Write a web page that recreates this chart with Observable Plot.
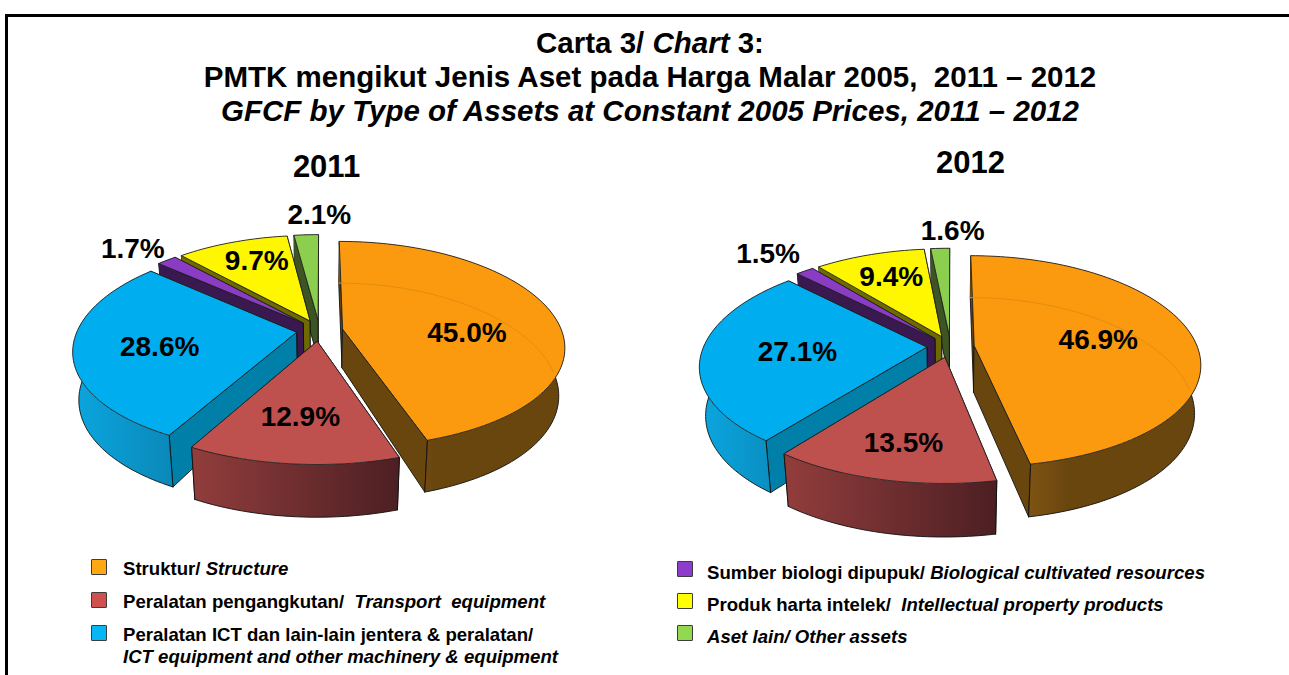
<!DOCTYPE html>
<html>
<head>
<meta charset="utf-8">
<script src="https://cdn.jsdelivr.net/npm/d3@7"></script>
<script src="https://cdn.jsdelivr.net/npm/@observablehq/plot@0.6"></script>
<style>
html,body{margin:0;padding:0;background:#fff;overflow:hidden;width:1289px;height:675px;font-family:"Liberation Sans",Arial,sans-serif;color:#000}
#page{position:relative;width:1289px;height:675px;overflow:hidden}
#frame{position:absolute;left:5px;top:14px;width:1290px;height:670px;border-left:3px solid #000;border-top:3px solid #000;box-sizing:border-box}
#head{position:absolute;left:0;top:0;width:1300px;height:135px;text-align:center;font-weight:bold;font-size:29.5px;line-height:34px}
#head div{position:absolute;width:100%;left:0;white-space:pre}
#chart{position:absolute;left:0;top:135px}
#chart svg{display:block}
#legend{position:absolute;left:0;top:545px;width:1289px;height:130px;font-weight:bold;font-size:18.6px;line-height:22px}
.sw{position:absolute;width:14px;height:14px;border:1.5px solid #3c3c3c;border-radius:1px}
.lt{position:absolute;white-space:pre}
</style>
</head>
<body>
<div id="page">
<div id="frame"></div>
<div id="head"></div>
<div id="chart"></div>
<div id="legend"></div>
</div>
<script>
// ---------- data ----------
const categories = ["Struktur","Peralatan pengangkutan","Peralatan ICT","Sumber biologi dipupuk","Produk harta intelek","Aset lain"];
const values2011 = [45.0,12.9,28.6,1.7,9.7,2.1];
const values2012 = [46.9,13.5,27.1,1.5,9.4,1.6];
const years = ["2011","2012"];
const titleLines = ["Carta 3/ <i>Chart</i> 3:","PMTK mengikut Jenis Aset pada Harga Malar 2005,  2011 – 2012","<i>GFCF by Type of Assets at Constant 2005 Prices, 2011 – 2012</i>"];
const legendMalay = ["Struktur/ ","Peralatan pengangkutan/  ","Peralatan ICT dan lain-lain jentera &amp; peralatan/<br>","Sumber biologi dipupuk/ ","Produk harta intelek/  ",""];
const legendEnglish = ["Structure","Transport  equipment","ICT equipment and other machinery &amp; equipment","Biological cultivated resources","Intellectual property products","Aset lain/ Other assets"];

// ---------- style ----------
const topColors  = ["#FB9A0E","#BE504E","#00AEEF","#8A3CC4","#FFF700","#8CCE4E"];
const swatchColors = ["#FFA812","#D0504E","#08B6F6","#8E3CCC","#FFFF00","#92D850"];
const wallStops = [
  [[.25,"#7E5412"],[.42,"#6A460F"]],
  [[0,"#923D3C"],[1,"#4C1F23"]],
  [[0,"#0BA6E0"],[1,"#0A88B8"]],
  [[0,"#3A1850"],[1,"#3A1850"]],
  [[0,"#6E6A00"],[1,"#6E6A00"]],
  [[0,"#3D5423"],[1,"#3D5423"]]
];
const wallInner  = ["#6A460F","#5A2526","#0080A8","#3A1850","#6E6A00","#3D5423"];
const paintOrder = [5,4,3,2,0,1];

// ---------- pie geometry ----------
const W = 1289, H = 410, Y0 = 135;
const pies = [
  {values:values2011, cx:319, cy:330, R:219, Ry:101, e:.107, persp:.15, perspX:.17, shrink:.975, apexDepth:39, rimDepth:47, grow:.11, labelDx:-1,
   labelAngle:[92.5,185.4,257.6,313.2,337.3,0.2], labelR:[.675,.766,.723,1.345,.825,1.373], year:[326,167]},
  {values:values2012, cx:950, cy:346, R:223, Ry:103.5, e:.107, persp:.15, perspX:.17, shrink:.975, apexDepth:47, rimDepth:47.5, grow:.115, labelDx:0,
   labelAngle:[85,192.5,265.2,317,338,0.5], labelR:[.672,.839,.682,1.41,.799,1.337], year:[970,163]}
];
const rad = d => d*Math.PI/180;

function project(p,U,V,depth){
  let x = p.R*U/(1-p.perspX*V), y = p.Ry*V/(1-p.persp*V);
  if(depth){ x *= p.shrink; y += depth*(1+p.grow*V); }
  return {x:p.cx+x, y:p.cy+y};
}
function pointOn(p,sl,r,th,bottom){
  const m = (sl.startAngle+sl.endAngle)/2;
  const depth = bottom ? p.apexDepth+(p.rimDepth-p.apexDepth)*r : 0;
  return project(p, p.e*Math.sin(m)+r*Math.sin(th), -p.e*Math.cos(m)-r*Math.cos(th), depth);
}
function arcAngles(a0,a1){
  const n = Math.max(2,Math.ceil((a1-a0)/rad(1.5)));
  return d3.range(n+1).map(i=>a0+(a1-a0)*i/n);
}
const tag = (pts,id)=>pts.map(q=>({...q,id}));
const faces = th => Math.cos(th) < 0.05;   // rim and corner edges on the viewer's side

const gradientDefs = () => {
  const defs = d3.create("svg:defs");
  wallStops.forEach((stops,i)=>{
    const g = defs.append("linearGradient").attr("id","wall"+i).attr("x1",0).attr("x2",1).attr("y1",0).attr("y2",0);
    stops.forEach(([o,c])=>g.append("stop").attr("offset",o).attr("stop-color",c));
  });
  return defs.node();
};

const marks = [gradientDefs];
const labels = [];
pies.forEach((p,pi)=>{
  const arcs = d3.pie().sort(null).value(d=>d)(p.values);
  paintOrder.forEach(i=>{
    const sl = arcs[i], a0 = sl.startAngle, a1 = sl.endAngle;
    const th = arcAngles(a0,a1);
    const topArc = th.map(t=>pointOn(p,sl,1,t,false));
    const botArc = th.map(t=>pointOn(p,sl,1,t,true));
    // radial walls, the one further back first
    const ends = [a0,a1].sort((a,b)=>Math.cos(b)-Math.cos(a));
    const walls = ends.flatMap((a,w)=>tag([pointOn(p,sl,0,a,false),pointOn(p,sl,1,a,false),pointOn(p,sl,1,a,true),pointOn(p,sl,0,a,true)],"w"+w));
    marks.push(Plot.line(walls,{x:"x",y:"y",z:"id",fill:wallInner[i],stroke:"#111",strokeWidth:.9,curve:"linear-closed"}));
    // outer wall
    marks.push(Plot.line([...topArc,...botArc.slice().reverse()],{x:"x",y:"y",fill:`url(#wall${i})`,stroke:"none",curve:"linear-closed"}));
    // bottom rim
    const rim = th.filter(faces).map(t=>pointOn(p,sl,1,t,true));
    if(rim.length) marks.push(Plot.line(rim,{x:"x",y:"y",stroke:"#111",strokeWidth:.9}));
    // corner edges
    const corners = [a0,a1].filter(faces).flatMap((a,w)=>tag([pointOn(p,sl,1,a,false),pointOn(p,sl,1,a,true)],"c"+w));
    if(corners.length) marks.push(Plot.line(corners,{x:"x",y:"y",z:"id",stroke:"#111",strokeWidth:.9}));
    // top face
    const face = [pointOn(p,sl,0,a0,false),...topArc];
    marks.push(Plot.line(face,{x:"x",y:"y",fill:topColors[i],stroke:"#222",strokeWidth:.9,curve:"linear-closed"}));
    // faint rim seen through the largest slice
    if(i===0){
      const ghost = arcAngles(a0,rad(88)).map(t=>pointOn(p,sl,1,t,true));
      marks.push(Plot.line(ghost,{x:"x",y:"y",stroke:"#E48C10",strokeWidth:1}));
    }
    // label
    const ang = rad(p.labelAngle[i]), r = p.labelR[i], q = project(p,r*Math.sin(ang),-r*Math.cos(ang),0);
    labels.push({x:q.x+p.labelDx,y:q.y,text:d3.format(".1f")(p.values[i])+"%"});
  });
});
const yearRows = pies.map((p,i)=>({x:p.year[0],y:p.year[1],text:years[i]}));

const plot = Plot.plot({
  width:W,height:H,margin:0,
  x:{type:"linear",domain:[0,W],range:[0,W],axis:null},
  y:{type:"linear",domain:[Y0,Y0+H],range:[0,H],axis:null},
  marks:[
    ...marks,
    Plot.text(labels,{x:"x",y:"y",text:"text",fontSize:28,fontWeight:"bold",fontFamily:"Liberation Sans",fill:"#000"}),
    Plot.text(yearRows,{x:"x",y:"y",text:"text",fontSize:31,fontWeight:"bold",fontFamily:"Liberation Sans",fill:"#000"})
  ]
});
plot.style.background="transparent";
document.getElementById("chart").appendChild(plot);

// ---------- headings ----------
const head = document.getElementById("head");
const titleY = [26,60,94];
titleLines.forEach((t,i)=>{const d=document.createElement("div");d.innerHTML=t;d.style.top=titleY[i]+"px";head.appendChild(d);});

// ---------- legend ----------
const legend = document.getElementById("legend");
const legendPos = [[91,14,123,13],[91,47,123,46],[91,80,123,79],[677,16,707,17],[677,48,707,49],[677,80,707,81]];
categories.forEach((c,i)=>{
  const [sx,sy,tx,ty]=legendPos[i];
  const s=document.createElement("div");s.className="sw";s.style.cssText=`left:${sx}px;top:${sy}px;background:${swatchColors[i]}`;legend.appendChild(s);
  const t=document.createElement("div");t.className="lt";t.style.cssText=`left:${tx}px;top:${ty}px`;t.innerHTML=`${legendMalay[i]}<i>${legendEnglish[i]}</i>`;legend.appendChild(t);
});
</script>
</body>
</html>
